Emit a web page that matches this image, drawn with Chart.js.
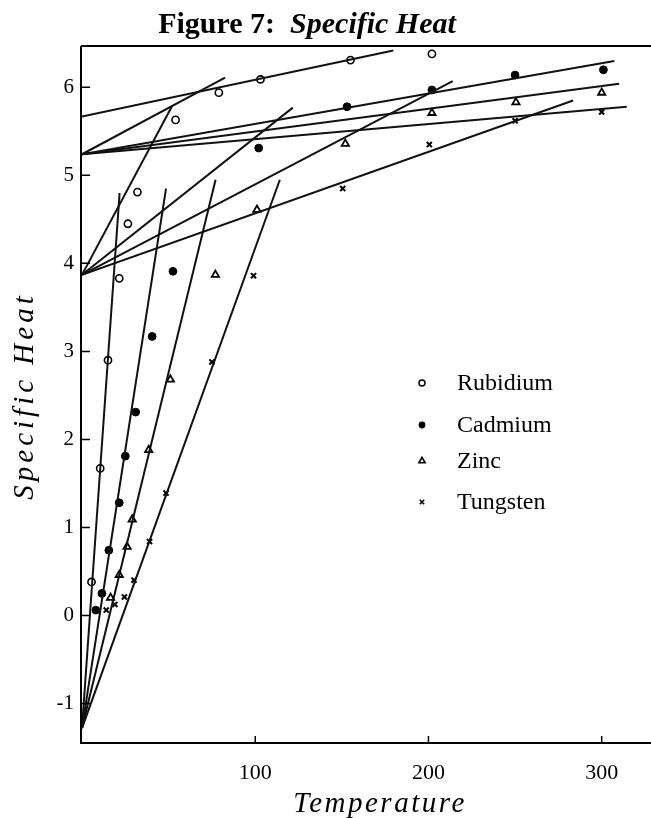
<!DOCTYPE html>
<html>
<head>
<meta charset="utf-8">
<script src="https://cdn.jsdelivr.net/npm/chart.js@4.4.1/dist/chart.umd.min.js"></script>
<style>
  html, body { margin: 0; padding: 0; background: #fff; }
  canvas { display: block; }
</style>
</head>
<body>
<canvas id="c" width="651" height="818"></canvas>
<script>
// Measured specific heat (cal/mol·K) against temperature (K)
const rubidiumTemp = [5.5, 10.5, 15, 21.5, 26.5, 32, 54, 79, 103, 155, 202];
const rubidiumHeat = [0.38, 1.67, 2.90, 3.83, 4.45, 4.81, 5.63, 5.94, 6.09, 6.31, 6.38];
const cadmiumTemp = [8, 11.5, 15.5, 21.5, 25, 31, 40.5, 52.5, 102, 153, 202, 250, 301];
const cadmiumHeat = [0.06, 0.25, 0.74, 1.28, 1.81, 2.31, 3.17, 3.91, 5.31, 5.78, 5.97, 6.14, 6.20];
const zincTemp = [16.5, 21.5, 26, 29, 38.5, 51, 77, 101, 152, 202, 250.5, 300];
const zincHeat = [0.20, 0.46, 0.78, 1.09, 1.88, 2.68, 3.87, 4.61, 5.36, 5.71, 5.83, 5.94];
const tungstenTemp = [14, 19, 24.5, 30, 39, 48.5, 75, 99, 150.5, 200.5, 250, 300];
const tungstenHeat = [0.06, 0.125, 0.21, 0.40, 0.84, 1.39, 2.88, 3.86, 4.85, 5.35, 5.62, 5.72];

// Straight-line fits for each regime, as [T1, C1, T2, C2]
const rubidiumFits = [[0, -1.28, 21.7, 4.80], [0, 3.87, 52.1, 5.79], [0, 5.24, 82.6, 6.11], [0, 5.67, 179.7, 6.42]];
const cadmiumFits = [[0, -1.28, 48.5, 4.85], [0, 3.87, 121.7, 5.77], [0, 5.24, 307.3, 6.30]];
const zincFits = [[0, -1.28, 77.1, 4.95], [0, 3.87, 214.0, 6.07], [0, 5.24, 310.1, 6.04]];
const tungstenFits = [[0, -1.28, 114.2, 4.95], [0, 3.87, 283.5, 5.85], [0, 5.24, 314.5, 5.78]];

const seriesNames = ['Rubidium', 'Cadmium', 'Zinc', 'Tungsten'];
const xTickValues = [100, 200, 300];
const yTickValues = [-1, 0, 1, 2, 3, 4, 5, 6];

const SERIF = '"Liberation Serif", "Times New Roman", serif';

const markerStyles = [
  { pointStyle: 'circle', pointRadius: 3.6, pointBorderWidth: 1.6, pointBackgroundColor: '#fff' },
  { pointStyle: 'circle', pointRadius: 3.9, pointBorderWidth: 1, pointBackgroundColor: '#000' },
  { pointStyle: 'triangle', pointRadius: 4.2, pointBorderWidth: 1.8, pointBackgroundColor: '#fff' },
  { pointStyle: 'crossRot', pointRadius: 3.6, pointBorderWidth: 2, pointBackgroundColor: '#000' }
];

const pointSets = [
  [rubidiumTemp, rubidiumHeat],
  [cadmiumTemp, cadmiumHeat],
  [zincTemp, zincHeat],
  [tungstenTemp, tungstenHeat]
];

const fitDatasets = [rubidiumFits, cadmiumFits, zincFits, tungstenFits].flatMap(fits =>
  fits.map(f => ({
    data: [{ x: f[0], y: f[1] }, { x: f[2], y: f[3] }],
    showLine: true,
    borderColor: '#111',
    borderWidth: 2,
    pointRadius: 0,
    fill: false
  }))
);

const pointDatasets = pointSets.map((s, i) => Object.assign({
  label: seriesNames[i],
  data: s[0].map((t, k) => ({ x: t, y: s[1][k] })),
  showLine: false,
  borderColor: '#000',
  pointBorderColor: '#000'
}, markerStyles[i]));

function drawMarker(ctx, kind, x, y) {
  ctx.save();
  ctx.strokeStyle = '#000';
  ctx.fillStyle = '#000';
  ctx.beginPath();
  if (kind === 0) {
    ctx.lineWidth = 1.5;
    ctx.arc(x, y, 3, 0, Math.PI * 2);
    ctx.fillStyle = '#fff';
    ctx.fill();
    ctx.stroke();
  } else if (kind === 1) {
    ctx.arc(x, y, 3.4, 0, Math.PI * 2);
    ctx.fill();
  } else if (kind === 2) {
    ctx.lineWidth = 1.6;
    const r = 3.6;
    ctx.moveTo(x, y - r);
    ctx.lineTo(x + r * 0.866, y + r * 0.5);
    ctx.lineTo(x - r * 0.866, y + r * 0.5);
    ctx.closePath();
    ctx.stroke();
  } else {
    ctx.lineWidth = 1.6;
    const r = 2.2;
    ctx.moveTo(x - r, y - r); ctx.lineTo(x + r, y + r);
    ctx.moveTo(x + r, y - r); ctx.lineTo(x - r, y + r);
    ctx.stroke();
  }
  ctx.restore();
}

const framePlugin = {
  id: 'frame',
  afterDatasetsDraw(chart) {
    const { ctx, chartArea: a, scales } = chart;
    ctx.save();
    ctx.strokeStyle = '#000';
    ctx.lineWidth = 2;
    ctx.beginPath();
    // top rule, left axis, bottom axis
    ctx.moveTo(a.left - 1, a.top); ctx.lineTo(chart.width, a.top);
    ctx.moveTo(a.left - 1, a.top); ctx.lineTo(a.left - 1, a.bottom);
    ctx.moveTo(a.left - 2, a.bottom); ctx.lineTo(chart.width, a.bottom);
    ctx.stroke();
    // inward tick marks
    ctx.lineWidth = 1.5;
    ctx.beginPath();
    yTickValues.forEach(v => {
      const py = scales.y.getPixelForValue(v);
      ctx.moveTo(a.left - 1, py); ctx.lineTo(a.left + 8, py);
    });
    xTickValues.forEach(v => {
      const px = scales.x.getPixelForValue(v);
      ctx.moveTo(px, a.bottom); ctx.lineTo(px, a.bottom - 7);
    });
    ctx.stroke();

    // legend
    ctx.fillStyle = '#000';
    ctx.font = '24px ' + SERIF;
    ctx.textBaseline = 'middle';
    ctx.textAlign = 'left';
    const legendX = 422, legendY = [383, 425, 461, 502];
    seriesNames.forEach((name, i) => {
      drawMarker(ctx, i, legendX, legendY[i]);
      ctx.fillText(name, 457, legendY[i] + 1);
    });

    // title
    ctx.textBaseline = 'alphabetic';
    ctx.font = 'bold 30px ' + SERIF;
    const part1 = 'Figure 7:  ';
    const w1 = ctx.measureText(part1).width;
    ctx.font = 'italic bold 30px ' + SERIF;
    const part2 = 'Specific Heat';
    const w2 = ctx.measureText(part2).width;
    const startX = 307 - (w1 + w2) / 2;
    ctx.font = 'bold 30px ' + SERIF;
    ctx.fillText(part1, startX, 33);
    ctx.font = 'italic bold 30px ' + SERIF;
    ctx.fillText(part2, startX + w1, 33);

    // axis titles
    ctx.font = 'italic 29px ' + SERIF;
    ctx.textAlign = 'center';
    ctx.letterSpacing = '2.5px';
    ctx.fillText('Temperature', 380, 812);
    ctx.save();
    ctx.translate(33, 396);
    ctx.rotate(-Math.PI / 2);
    ctx.letterSpacing = '4px';
    ctx.fillText('Specific Heat', 0, 0);
    ctx.restore();
    ctx.letterSpacing = '0px';
    ctx.restore();
  }
};

new Chart(document.getElementById('c').getContext('2d'), {
  type: 'scatter',
  data: { datasets: [...fitDatasets, ...pointDatasets] },
  options: {
    responsive: false,
    animation: false,
    devicePixelRatio: 1,
    layout: { padding: { top: 46, left: 0, right: 0, bottom: 0 } },
    plugins: {
      legend: { display: false },
      tooltip: { enabled: false },
      title: { display: false }
    },
    scales: {
      x: {
        type: 'linear',
        min: 0,
        max: 325,
        grid: { display: false, drawTicks: false },
        border: { display: false },
        afterFit(s) { s.height = 75; },
        afterBuildTicks(s) { s.ticks = xTickValues.map(v => ({ value: v })); },
        ticks: {
          font: { family: SERIF, size: 22 },
          color: '#000',
          padding: 17,
          maxRotation: 0,
          autoSkip: false,
          callback: v => String(v)
        }
      },
      y: {
        type: 'linear',
        min: -1.45,
        max: 6.47,
        grid: { display: false, drawTicks: false },
        border: { display: false },
        afterFit(s) { s.width = 82; },
        afterBuildTicks(s) { s.ticks = yTickValues.map(v => ({ value: v })); },
        ticks: {
          font: { family: SERIF, size: 21 },
          color: '#000',
          padding: 8,
          autoSkip: false,
          callback: v => String(v)
        }
      }
    }
  },
  plugins: [framePlugin]
});
</script>
</body>
</html>
